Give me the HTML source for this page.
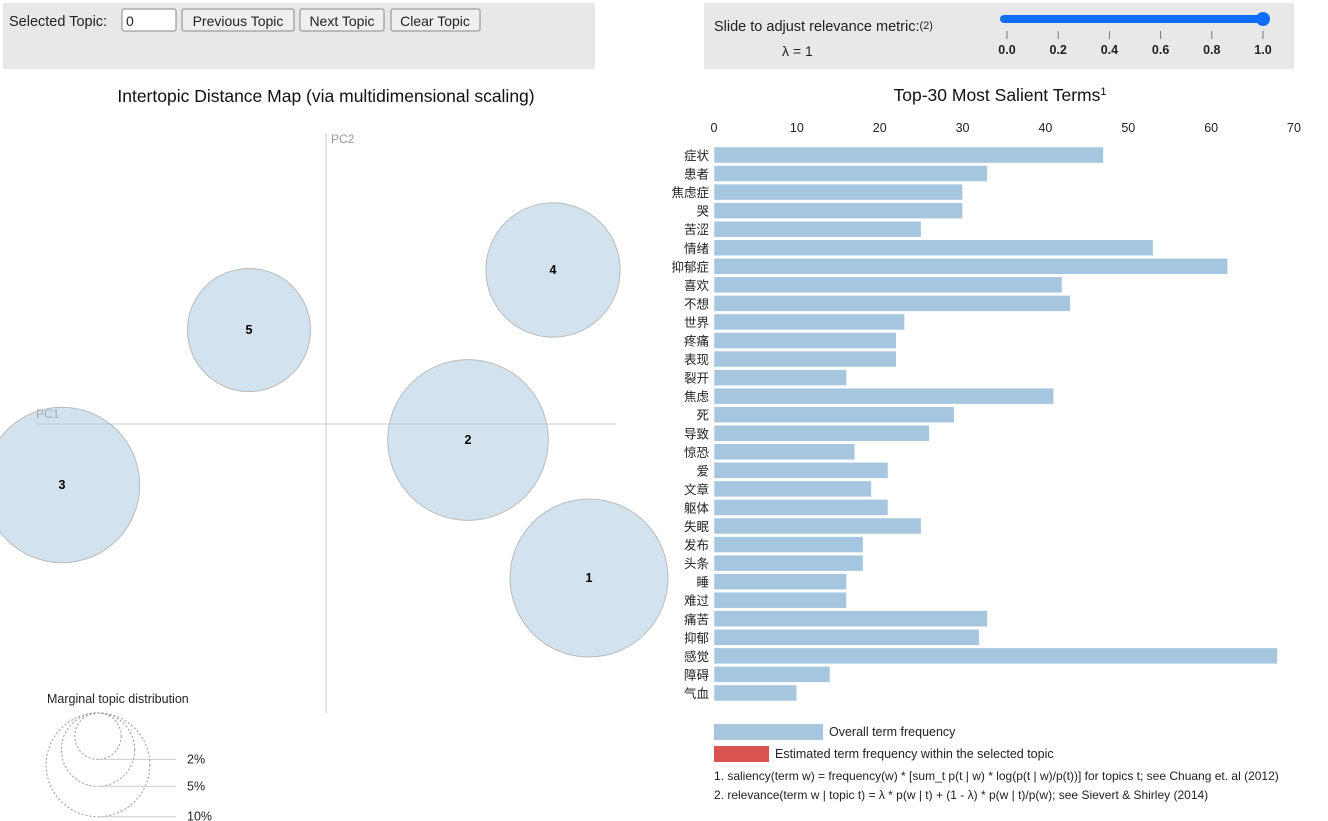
<!DOCTYPE html>
<html><head><meta charset="utf-8"><style>
body{margin:0;width:1328px;height:821px;overflow:hidden;background:#fff;font-family:"Liberation Sans","Noto Sans CJK SC",sans-serif;}
svg{position:absolute;left:0;top:0}
</style></head><body>
<svg width="1328" height="821">
<rect x="3" y="3" width="592" height="66" fill="#e8e8e8"/>
<text x="9" y="26" font-size="14.5" fill="#222">Selected Topic:</text>
<rect x="122" y="9" width="54" height="22" fill="#fff" stroke="#888" rx="2"/>
<text x="126" y="26" font-size="14" fill="#222">0</text>
<g><rect x="182" y="9" width="112" height="22" fill="#efefef" stroke="#888" rx="2"/><text x="238" y="26" font-size="14" text-anchor="middle" fill="#222">Previous Topic</text></g>
<g><rect x="300" y="9" width="84" height="22" fill="#efefef" stroke="#888" rx="2"/><text x="342" y="26" font-size="14" text-anchor="middle" fill="#222">Next Topic</text></g>
<g><rect x="391" y="9" width="89" height="22" fill="#efefef" stroke="#888" rx="2"/><text x="435" y="26" font-size="14" text-anchor="middle" fill="#222">Clear Topic</text></g>

<rect x="704" y="3" width="590" height="66" fill="#e8e8e8"/>
<text x="714" y="31" font-size="14.5" fill="#222">Slide to adjust relevance metric:<tspan font-size="11" dy="-2">(2)</tspan></text>
<text x="782" y="56" font-size="14" fill="#222">λ = 1</text>
<g>
<line x1="1004" y1="19" x2="1263" y2="19" stroke="#0d6efd" stroke-width="8" stroke-linecap="round"/>
<circle cx="1263" cy="19" r="7" fill="#0d6efd"/>
</g>
<g id="sliderTicks" font-size="12.5" fill="#222" font-weight="bold" text-anchor="middle"></g>

<text x="326" y="102" font-size="17.5" text-anchor="middle" fill="#111">Intertopic Distance Map (via multidimensional scaling)</text>
<line x1="326" y1="133" x2="326" y2="713" stroke="#ccc"/>
<line x1="36" y1="424" x2="616" y2="424" stroke="#ccc"/>
<text x="331" y="143" font-size="12" fill="#999">PC2</text>
<text x="36" y="418" font-size="12" fill="#999">PC1</text>
<g id="topics"></g>

<text x="47" y="703" font-size="12.5" fill="#222">Marginal topic distribution</text>
<g id="marginal"></g>

<text x="1000" y="101" font-size="17.5" text-anchor="middle" fill="#111">Top-30 Most Salient Terms<tspan font-size="11" dy="-6">1</tspan></text>
<g id="xticks" font-size="12.5" fill="#222" text-anchor="middle"></g>
<g id="bars"></g>

<rect x="714" y="724" width="109" height="16" fill="#a6c6df"/>
<text x="829" y="736" font-size="12.5" fill="#222">Overall term frequency</text>
<rect x="714" y="746" width="55" height="16" fill="#d9534f"/>
<text x="775" y="758" font-size="12.5" fill="#222">Estimated term frequency within the selected topic</text>
<text x="714" y="780" font-size="12" fill="#222">1. saliency(term w) = frequency(w) * [sum_t p(t | w) * log(p(t | w)/p(t))] for topics t; see Chuang et. al (2012)</text>
<text x="714" y="799" font-size="12" fill="#222">2. relevance(term w | topic t) = λ * p(w | t) + (1 - λ) * p(w | t)/p(w); see Sievert &amp; Shirley (2014)</text>
</svg>
<script>
const terms=["症状","患者","焦虑症","哭","苦涩","情绪","抑郁症","喜欢","不想","世界","疼痛","表现","裂开","焦虑","死","导致","惊恐","爱","文章","躯体","失眠","发布","头条","睡","难过","痛苦","抑郁","感觉","障碍","气血"];
const freqs=[47,33,30,30,25,53,62,42,43,23,22,22,16,41,29,26,17,21,19,21,25,18,18,16,16,33,32,68,14,10];
const xTickVals=[0,10,20,30,40,50,60,70];
const topicIds=[1,2,3,4,5];
const topicPC1=[0.263,0.142,-0.264,0.227,-0.077];
const topicPC2=[-0.154,-0.016,-0.061,0.154,0.094];
const topicSize=[6.1,6.3,5.9,4.4,3.7];
const sliderVals=[0,0.2,0.4,0.6,0.8,1.0];
const marginalPcts=[2,5,10];

const NS="http://www.w3.org/2000/svg";
function mk(t,a,p,txt){const e=document.createElementNS(NS,t);for(const k in a)e.setAttribute(k,a[k]);if(txt!==undefined)e.textContent=txt;p.appendChild(e);return e;}
const xs=v=>714+v*(580/70);
const rowY=i=>147+i*18.55;
const xt=document.getElementById('xticks');
xTickVals.forEach(v=>{const t=mk('text',{x:xs(v),y:132},xt,String(v));

});
const bg=document.getElementById('bars');
terms.forEach((w,i)=>{const r=mk('rect',{x:714,y:rowY(i),width:xs(freqs[i])-714,height:16,fill:'#a6c6df',stroke:'#fff','stroke-width':0.5},bg);


const t=mk('text',{x:709,y:rowY(i)+13,'font-size':12.5,'text-anchor':'end',fill:'#222'},bg,w);

});
const sx=v=>326+v*1000, sy=v=>424-v*1000;
const tg=document.getElementById('topics');
topicIds.forEach((id,i)=>{const r=Math.sqrt(topicSize[i])*32;
const c=mk('circle',{cx:sx(topicPC1[i]),cy:sy(topicPC2[i]),r:r,fill:'#a6c6df','fill-opacity':0.5,stroke:'#bbb'},tg);


const t=mk('text',{x:sx(topicPC1[i]),y:sy(topicPC2[i])+4,'font-size':12.5,'font-weight':'bold','text-anchor':'middle',fill:'#000'},tg,String(id));

});
const mg=document.getElementById('marginal');
marginalPcts.forEach(p=>{const r=16.4*Math.sqrt(p);
const c=mk('circle',{cx:98,cy:713+r,r:r,fill:'none',stroke:'#999','stroke-dasharray':'2,2'},mg);


mk('line',{x1:98,y1:713+2*r,x2:176,y2:713+2*r,stroke:'#ccc'},mg);
const t=mk('text',{x:187,y:713+2*r+4,'font-size':12.5,fill:'#222'},mg,p+'%');

});
const st=document.getElementById('sliderTicks');
sliderVals.forEach(v=>{const x=1007+v*256;mk('line',{x1:x,y1:31,x2:x,y2:39,stroke:'#777'},st);
const t=mk('text',{x:x,y:54},st,v.toFixed(1));

});
</script>
</body></html>
